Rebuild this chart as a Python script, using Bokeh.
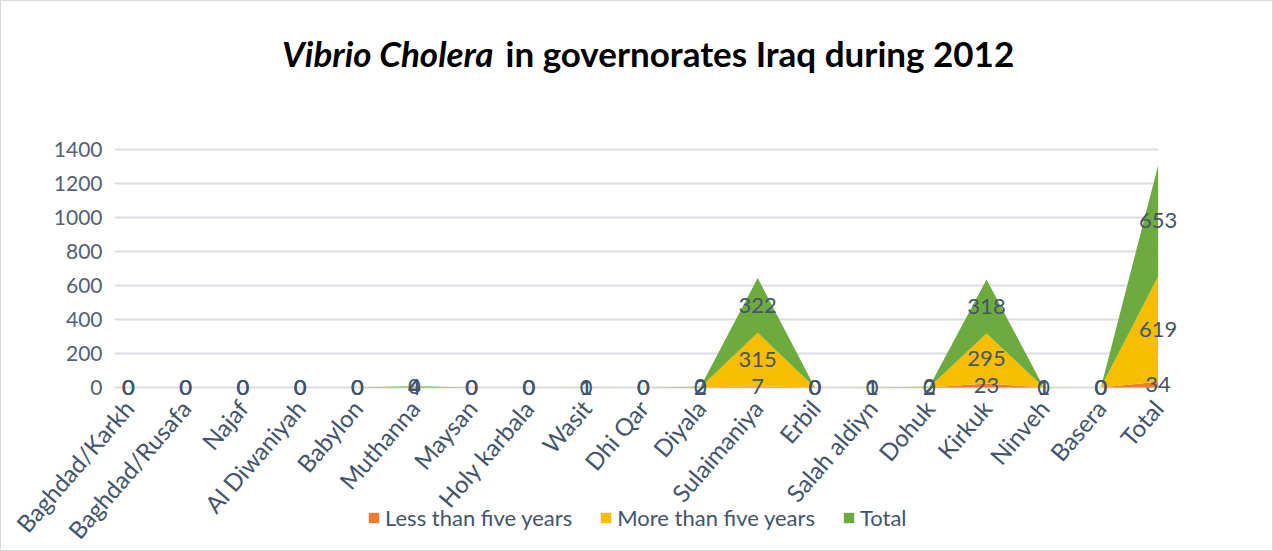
from bokeh.plotting import figure
from bokeh.models import (ColumnDataSource, FixedTicker, Label, LabelSet, Legend,
                          LegendItem, Range1d)
from bokeh.core.properties import value
from bokeh.embed import file_html
from bokeh.resources import INLINE

# Cholera cases by governorate, Iraq 2012
governorates = ["Baghdad/Karkh", "Baghdad/Rusafa", "Najaf", "Al Diwaniyah", "Babylon",
                "Muthanna", "Maysan", "Holy karbala", "Wasit", "Dhi Qar", "Diyala",
                "Sulaimaniya", "Erbil", "Salah aldiyn", "Dohuk", "Kirkuk", "Ninveh",
                "Basera", "Total"]
less_than_five = [0, 0, 0, 0, 0, 4, 0, 0, 0, 0, 0, 7, 0, 0, 0, 23, 0, 0, 34]
more_than_five = [0, 0, 0, 0, 0, 0, 0, 0, 1, 0, 2, 315, 0, 1, 2, 295, 1, 0, 619]
total_cases = [0, 0, 0, 0, 0, 4, 0, 0, 1, 0, 2, 322, 0, 1, 2, 318, 1, 0, 653]

series_names = ["Less than five years", "More than five years", "Total"]
series_colors = ["#ED7D31", "#F7BE00", "#6EAB3E"]
y_ticks = [0, 200, 400, 600, 800, 1000, 1200, 1400]

FONT = "Lato"
TEXT_COLOR = "#44546A"

W, H = 1273, 551
X0, DX = 127.0, 57.2          # pixel of first category and spacing
Y0, PX_PER_UNIT = 386.0, 0.17  # pixel of value 0 and scale
AXIS_PX = 112                  # pixel column of the value axis


def px_to_x(px):
    return (px - X0) / DX


xs = list(range(len(governorates)))
source = ColumnDataSource(dict(x=xs, less=less_than_five, more=more_than_five,
                               total=total_cases))

p = figure(width=W, height=H, output_backend="svg", toolbar_location=None,
           x_range=Range1d(px_to_x(0), px_to_x(W)),
           y_range=Range1d(-(H - Y0) / PX_PER_UNIT, Y0 / PX_PER_UNIT),
           min_border_left=0, min_border_right=0, min_border_top=0,
           min_border_bottom=0)
p.outline_line_color = None
p.background_fill_color = "white"
p.border_fill_color = "white"

areas = p.varea_stack(stackers=["less", "more", "total"], x="x", color=series_colors,
                      source=source)

# data labels at the middle of each stacked band
lbl_x, lbl_y, lbl_t = [], [], []
for i in xs:
    base = 0
    for v in (less_than_five[i], more_than_five[i], total_cases[i]):
        lbl_x.append(i)
        lbl_y.append(base + v / 2)
        lbl_t.append(str(v))
        base += v
lbl_src = ColumnDataSource(dict(x=lbl_x, y=lbl_y, t=lbl_t))
p.add_layout(LabelSet(x="x", y="y", text="t", source=lbl_src, text_align="center",
                      text_baseline="middle", text_font=value(FONT),
                      text_font_size="22px", text_color=TEXT_COLOR))

# axes: category axis sits on the zero line, value axis at the plot's left edge
p.xaxis.fixed_location = 0
p.xaxis.ticker = FixedTicker(ticks=xs)
p.xaxis.major_label_overrides = {i: g for i, g in enumerate(governorates)}
p.xaxis.major_label_orientation = 0.86
p.xaxis.axis_line_color = None
p.xaxis.major_tick_line_color = None
p.xaxis.minor_tick_line_color = None
p.xaxis.major_label_standoff = 10
p.xaxis.major_label_text_font = FONT
p.xaxis.major_label_text_font_size = "24px"
p.xaxis.major_label_text_color = TEXT_COLOR

p.yaxis.fixed_location = px_to_x(AXIS_PX)
p.yaxis.ticker = FixedTicker(ticks=y_ticks)
p.yaxis.axis_line_color = None
p.yaxis.major_tick_line_color = None
p.yaxis.minor_tick_line_color = None
p.yaxis.major_label_standoff = 5
p.yaxis.major_label_text_font = FONT
p.yaxis.major_label_text_font_size = "21px"
p.yaxis.major_label_text_color = "#556070"

p.xgrid.grid_line_color = None
p.ygrid.grid_line_color = "#DADEE4"
p.ygrid.grid_line_width = 2
p.ygrid.cross_bounds = (px_to_x(AXIS_PX + 1), len(governorates) - 1)

# title: italic genus name followed by plain bold text
title_y = H - 51
p.add_layout(Label(x=492, y=title_y, x_units="screen", y_units="screen",
                   text="Vibrio Cholera", text_font=FONT, text_font_style="bold italic",
                   text_font_size="35px", text_color="black", text_align="right",
                   text_baseline="middle"))
p.add_layout(Label(x=504, y=title_y, x_units="screen", y_units="screen",
                   text="in governorates Iraq during 2012", text_font=FONT,
                   text_font_style="bold", text_font_size="35px", text_color="black",
                   text_align="left", text_baseline="middle"))

legend = Legend(items=[LegendItem(label=n, renderers=[r]) for n, r in
                       zip(series_names, areas)],
                orientation="horizontal", location=(366, 21),
                label_text_font=FONT, label_text_font_size="22px",
                label_text_color=TEXT_COLOR, glyph_width=13, glyph_height=13,
                spacing=27, label_standoff=5, background_fill_alpha=0,
                border_line_color=None, padding=0, margin=0)
p.add_layout(legend, "center")

p.styles = {"border": "1px solid #D9D9D9"}

open("out.html", "w").write(file_html(p, INLINE))
